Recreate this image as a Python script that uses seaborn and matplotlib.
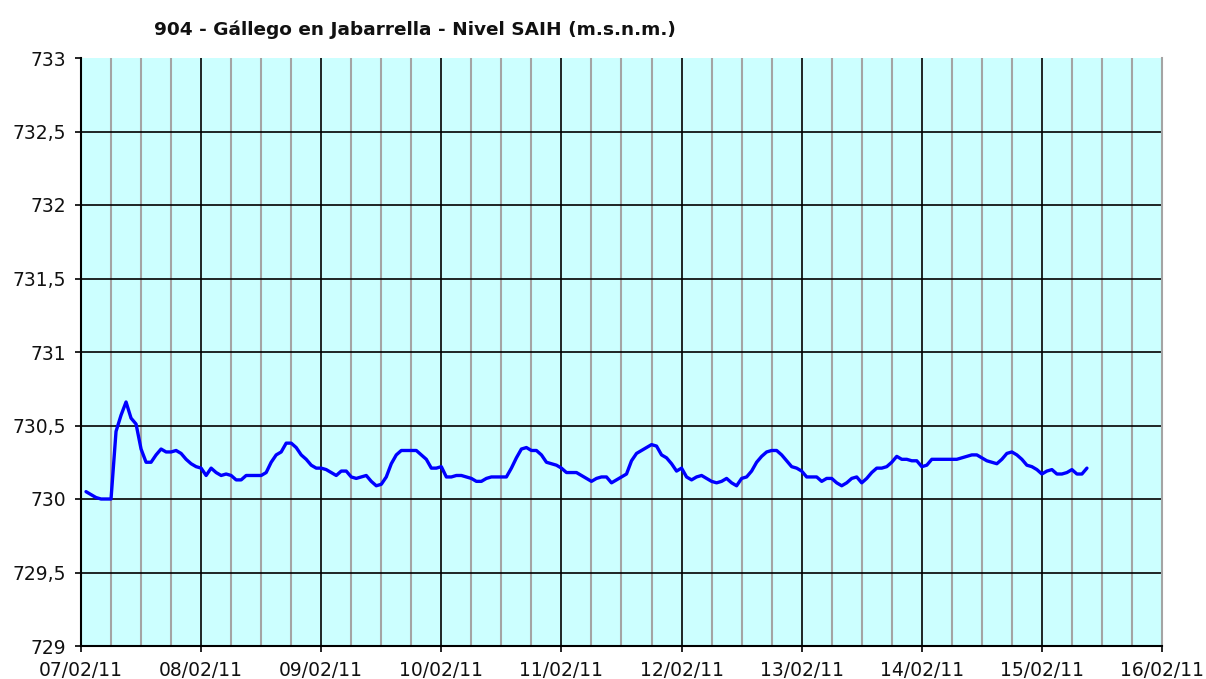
import numpy as np
import pandas as pd
import matplotlib
matplotlib.use("Agg")
import matplotlib.pyplot as plt
import matplotlib.dates as mdates
from matplotlib.ticker import MultipleLocator, FuncFormatter
import seaborn as sns

sns.set_theme(style="white")
plt.rcParams['font.family'] = ['DejaVu Sans']

title = "904 - Gállego en Jabarrella - Nivel SAIH (m.s.n.m.)"
start = "2011-02-07 01:00"

day07 = [730.05, 730.03, 730.01, 730.00, 730.00, 730.00, 730.46, 730.57, 730.66, 730.55, 730.51, 730.34,
         730.25, 730.25, 730.30, 730.34, 730.32, 730.32, 730.33, 730.31, 730.27, 730.24, 730.22, 730.21]
day08 = [730.16, 730.21, 730.18, 730.16, 730.17, 730.16, 730.13, 730.13, 730.16, 730.16, 730.16, 730.16,
         730.18, 730.25, 730.30, 730.32, 730.38, 730.38, 730.35, 730.30, 730.27, 730.23, 730.21, 730.21]
day09 = [730.20, 730.18, 730.16, 730.19, 730.19, 730.15, 730.14, 730.15, 730.16, 730.12, 730.09, 730.10,
         730.15, 730.24, 730.30, 730.33, 730.33, 730.33, 730.33, 730.30, 730.27, 730.21, 730.21, 730.22]
day10 = [730.15, 730.15, 730.16, 730.16, 730.15, 730.14, 730.12, 730.12, 730.14, 730.15, 730.15, 730.15,
         730.15, 730.21, 730.28, 730.34, 730.35, 730.33, 730.33, 730.30, 730.25, 730.24, 730.23, 730.21]
day11 = [730.18, 730.18, 730.18, 730.16, 730.14, 730.12, 730.14, 730.15, 730.15, 730.11, 730.13, 730.15,
         730.17, 730.26, 730.31, 730.33, 730.35, 730.37, 730.36, 730.30, 730.28, 730.24, 730.19, 730.21]
day12 = [730.15, 730.13, 730.15, 730.16, 730.14, 730.12, 730.11, 730.12, 730.14, 730.11, 730.09, 730.14,
         730.15, 730.19, 730.25, 730.29, 730.32, 730.33, 730.33, 730.30, 730.26, 730.22, 730.21, 730.19]
day13 = [730.15, 730.15, 730.15, 730.12, 730.14, 730.14, 730.11, 730.09, 730.11, 730.14, 730.15, 730.11,
         730.14, 730.18, 730.21, 730.21, 730.22, 730.25, 730.29, 730.27, 730.27, 730.26, 730.26, 730.22]
day14 = [730.23, 730.27, 730.27, 730.27, 730.27, 730.27, 730.27, 730.28, 730.29, 730.30, 730.30, 730.28,
         730.26, 730.25, 730.24, 730.27, 730.31, 730.32, 730.30, 730.27, 730.23, 730.22, 730.20, 730.17]
day15 = [730.19, 730.20, 730.17, 730.17, 730.18, 730.20, 730.17, 730.17, 730.21]

levels = day07 + day08 + day09 + day10 + day11 + day12 + day13 + day14 + day15
times = pd.date_range(start, periods=len(levels), freq="h")
df = pd.DataFrame({"time": times, "nivel": levels})

W, H = 1206, 679
fig = plt.figure(figsize=(W / 100, H / 100), dpi=100)
ax = fig.add_axes([81 / W, 1 - 646 / H, (1162 - 81) / W, (646 - 58) / H])
ax.set_facecolor("#CCFFFF")
ax.set_axisbelow(True)

sns.lineplot(data=df, x="time", y="nivel", ax=ax, color="#0000FF", linewidth=2.4)

ax.set_xlim(pd.Timestamp("2011-02-07"), pd.Timestamp("2011-02-16"))
ax.set_ylim(729, 733)
ax.xaxis.set_major_locator(mdates.DayLocator())
ax.xaxis.set_major_formatter(mdates.DateFormatter("%d/%m/%y"))
ax.xaxis.set_minor_locator(mdates.HourLocator(byhour=[6, 12, 18]))
ax.yaxis.set_major_locator(MultipleLocator(0.5))
ax.yaxis.set_major_formatter(FuncFormatter(lambda v, p: f"{v:g}".replace(".", ",")))

ax.grid(which="major", color="black", linewidth=1.2)
ax.grid(which="minor", axis="x", color="#A4A4A4", linewidth=1.5)
ax.set_xlabel("")
ax.set_ylabel("")

ax.tick_params(axis="both", which="major", direction="out", length=4, width=1.2,
               color="black", labelsize=13.5, labelcolor="#111111", pad=7,
               bottom=True, left=True)
ax.tick_params(axis="x", which="minor", length=0)

for s in ["left", "bottom"]:
    ax.spines[s].set_color("black")
    ax.spines[s].set_linewidth(1.5)
ax.spines["top"].set_visible(False)
ax.spines["right"].set_color("#A4A4A4")
ax.spines["right"].set_linewidth(1.5)

fig.canvas.draw()
xt = ax.xaxis.get_major_ticks()
locs = ax.xaxis.get_majorticklocs()
for t, l in zip(xt, locs):
    if l >= mdates.date2num(pd.Timestamp("2011-02-16")) - 1e-6:
        t.gridline.set_visible(False)
yt = ax.yaxis.get_major_ticks()
ylocs = ax.yaxis.get_majorticklocs()
for t, l in zip(yt, ylocs):
    if l >= 733 - 1e-9:
        t.gridline.set_visible(False)

fig.text(415 / W, 1 - 30 / H, title, ha="center", va="center",
         fontsize=13.3, fontweight="bold", color="#111111")

fig.savefig("out.png", dpi=100)
